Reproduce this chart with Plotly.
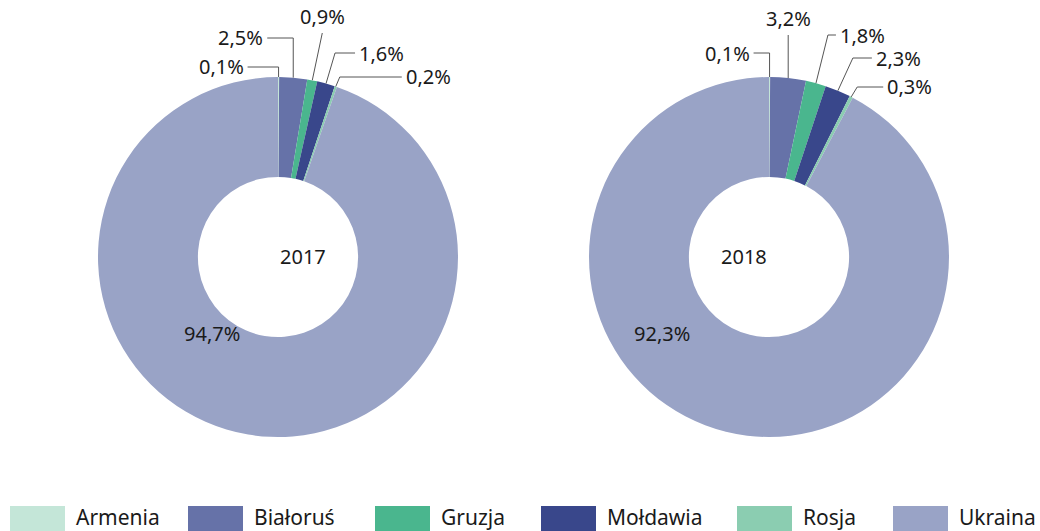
import math
import plotly.graph_objects as go

# ---------------- data ----------------
countries = ["Armenia", "Białoruś", "Gruzja", "Mołdawia", "Rosja", "Ukraina"]
values_2017 = [0.1, 2.5, 0.9, 1.6, 0.2, 94.7]
values_2018 = [0.1, 3.2, 1.8, 2.3, 0.3, 92.3]
years = ["2017", "2018"]
colors = ["#c4e6d8", "#6672a8", "#4ab68e", "#39478b", "#8bcdb1", "#99a3c6"]

# ---------------- layout / style ----------------
W, H = 1040, 531
R = 180                 # outer radius (px)
HOLE = 0.445
centers = [(278, 257), (769, 257)]
FONT = "Noto Sans, Open Sans, sans-serif"
TXT = "#1a1a1a"
LINE = "#555555"
LBL_SIZE = 20

# leader-line styles per slice: (dx from anchor, elbow y rel. to centre, horizontal length)
# hlen == 0 -> label sits above the elbow; None -> label inside (offset x, y)
leader_2017 = [(0, -190, -31), (0, -219, -26), (10, -224, 0), (9, -204, 20), (4, -180, 62), None]
leader_2018 = [(0, -204, -16), (0, -222, 0), (12, -222, 8), (15, -199, 19), (6, -170, 26), None]
inside_offsets = [(-96, 76), (-107, 76)]

legend_swatch_x = [10, 188, 375, 541, 737, 893]
SW_W, SW_Y0 = 55, 506


def px(x):
    return x / W


def py(y):
    return 1 - y / H


def fmt(v):
    return f"{v:.1f}".replace(".", ",") + "%"


fig = go.Figure()
annotations = []
shapes = []
lbl_font = dict(family=FONT, size=LBL_SIZE, color=TXT)

for yi, (year, vals, leaders) in enumerate(zip(years, [values_2017, values_2018], [leader_2017, leader_2018])):
    cx, cy = centers[yi]
    fig.add_trace(go.Pie(
        labels=countries, values=vals, hole=HOLE, sort=False, direction="clockwise",
        rotation=0, textinfo="none", hoverinfo="label+percent",
        marker=dict(colors=colors, line=dict(width=0)),
        domain=dict(x=[px(cx - R), px(cx + R)], y=[py(cy + R), py(cy - R)]),
        showlegend=False, name=year,
    ))
    annotations.append(dict(x=px(cx), y=py(cy), xref="paper", yref="paper", text=year,
                            showarrow=False, font=lbl_font))
    total = sum(vals)
    cum = 0.0
    for v, ld in zip(vals, leaders):
        mid = (cum + v / 2) / total * 2 * math.pi
        cum += v
        if ld is None:
            ox, oy = inside_offsets[yi]
            annotations.append(dict(x=px(cx + ox), y=py(cy + oy), xref="paper", yref="paper",
                                    text=fmt(v), showarrow=False, font=lbl_font))
            continue
        ax = cx + R * math.sin(mid)
        ay = cy - R * math.cos(mid)
        dx, ey, hl = ld
        ex, eyy = ax + dx, cy + ey
        fx = ex + hl
        shapes.append(dict(type="path", xref="paper", yref="paper",
                           path=f"M {px(ax)} {py(ay)} L {px(ex)} {py(eyy)} L {px(fx)} {py(eyy)}",
                           line=dict(color=LINE, width=1)))
        if hl == 0:
            annotations.append(dict(x=px(ex), y=py(eyy - 1), xref="paper", yref="paper",
                                    text=fmt(v), showarrow=False, xanchor="center", yanchor="bottom",
                                    font=lbl_font))
        elif hl < 0:
            annotations.append(dict(x=px(fx - 2), y=py(eyy), xref="paper", yref="paper",
                                    text=fmt(v), showarrow=False, xanchor="right", yanchor="middle",
                                    font=lbl_font))
        else:
            annotations.append(dict(x=px(fx + 2), y=py(eyy), xref="paper", yref="paper",
                                    text=fmt(v), showarrow=False, xanchor="left", yanchor="middle",
                                    font=lbl_font))

# manual legend
for name, col, sx in zip(countries, colors, legend_swatch_x):
    shapes.append(dict(type="rect", xref="paper", yref="paper",
                       x0=px(sx), x1=px(sx + SW_W), y0=py(SW_Y0 + 30), y1=py(SW_Y0),
                       fillcolor=col, line=dict(width=0)))
    annotations.append(dict(x=px(sx + SW_W + 9), y=py(517), xref="paper", yref="paper",
                            text=name, showarrow=False, xanchor="left", yanchor="middle",
                            font=dict(family=FONT, size=21, color=TXT)))

fig.update_layout(
    width=W, height=H, margin=dict(l=0, r=0, t=0, b=0),
    paper_bgcolor="white", plot_bgcolor="white",
    annotations=annotations, shapes=shapes, showlegend=False,
)

fig.write_html("out.html", config={"displayModeBar": False},
               post_script="document.body.style.margin='0';")
